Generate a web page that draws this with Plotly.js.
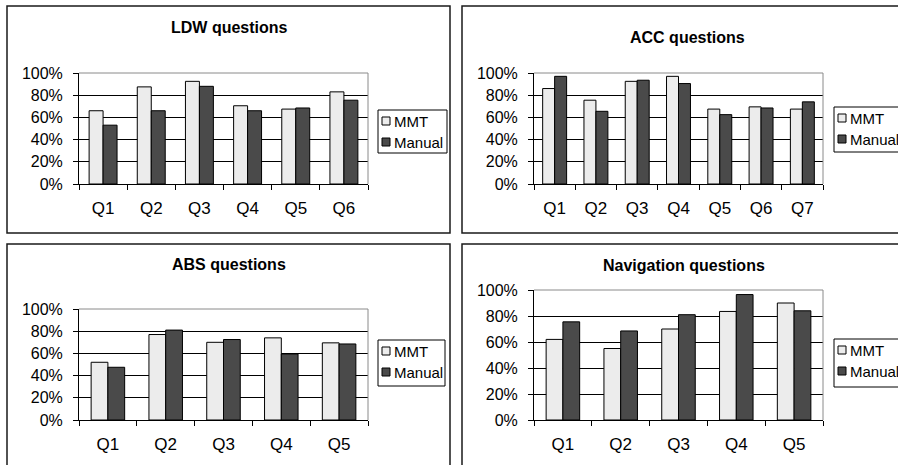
<!DOCTYPE html>
<html>
<head>
<meta charset="utf-8">
<script src="https://cdn.plot.ly/plotly-3.0.1.min.js"></script>
<style>html,body{margin:0;padding:0;background:#fff;}#chart{width:898px;height:465px;}</style>
</head>
<body>
<div id="chart"></div>
<script>
// ---- data ----
const seriesNames = ['MMT', 'Manual'];
const panelTitles = ['LDW questions', 'ACC questions', 'ABS questions', 'Navigation questions'];

const ldwCats = ['Q1', 'Q2', 'Q3', 'Q4', 'Q5', 'Q6'];
const ldwMMT = [66, 87.5, 92.5, 70.5, 67.5, 83];
const ldwManual = [53, 66, 88, 66, 68.5, 75.5];

const accCats = ['Q1', 'Q2', 'Q3', 'Q4', 'Q5', 'Q6', 'Q7'];
const accMMT = [86, 75.5, 92.5, 97, 67.5, 69.5, 67.5];
const accManual = [97, 65.5, 93.5, 90.5, 62.5, 68.5, 74];

const absCats = ['Q1', 'Q2', 'Q3', 'Q4', 'Q5'];
const absMMT = [52, 77, 70, 74, 69.5];
const absManual = [47.5, 81, 72.5, 59.5, 68.5];

const navCats = ['Q1', 'Q2', 'Q3', 'Q4', 'Q5'];
const navMMT = [62, 55, 70, 83.5, 90];
const navManual = [75.5, 68.5, 81, 96.5, 84];

const yTickVals = [0, 20, 40, 60, 80, 100];
const yTickText = ['0%', '20%', '40%', '60%', '80%', '100%'];

// ---- layout helpers ----
const W = 898, H = 465;
const px = x => x / W;
const py = y => 1 - y / H;
const FONT = 'Liberation Sans, Arial, sans-serif';
const colMMT = '#ececec', colManual = '#4a4a4a';

const panels = [
  {cats: ldwCats, a: ldwMMT, b: ldwManual, plot: [79, 73, 368, 184], box: [7, 6, 450, 233], title: [229, 28], leg: [378, 110, 447, 153]},
  {cats: accCats, a: accMMT, b: accManual, plot: [534, 73, 823, 184], box: [462, 6, 905, 233], title: [687, 37], leg: [834, 107, 905, 152]},
  {cats: absCats, a: absMMT, b: absManual, plot: [79, 309, 368, 420], box: [7, 244, 450, 475], title: [229, 264], leg: [378, 340, 445, 386]},
  {cats: navCats, a: navMMT, b: navManual, plot: [534, 290, 823, 420], box: [462, 244, 905, 475], title: [684, 265], leg: [834, 339, 905, 387]}
];

const traces = [];
const layout = {
  width: W, height: H,
  margin: {l: 0, r: 0, t: 0, b: 0},
  paper_bgcolor: '#fff', plot_bgcolor: '#fff',
  showlegend: false,
  barmode: 'group', bargap: 0.42, bargroupgap: 0,
  font: {family: FONT, color: '#000'},
  shapes: [], annotations: []
};

panels.forEach((p, i) => {
  const n = i === 0 ? '' : String(i + 1);
  const xa = 'x' + n, ya = 'y' + n;
  const vals = [p.a, p.b];
  const cols = [colMMT, colManual];
  vals.forEach((v, k) => {
    traces.push({
      type: 'bar', x: p.cats, y: v, name: seriesNames[k],
      xaxis: xa, yaxis: ya,
      marker: {color: cols[k], line: {color: '#000', width: 1}},
      hoverinfo: 'x+y+name'
    });
  });
  const [x0, y0, x1, y1] = p.plot;
  layout['xaxis' + n] = {
    domain: [px(x0), px(x1)], anchor: ya,
    type: 'category',
    showline: true, linecolor: '#000', linewidth: 1,
    ticks: 'outside', tickson: 'boundaries', ticklen: 5, tickcolor: '#000', tickwidth: 1,
    tickfont: {family: FONT, size: 17, color: '#000'},
    ticklabelstandoff: 9,
    showgrid: false, zeroline: false, fixedrange: true
  };
  layout['yaxis' + n] = {
    domain: [py(y1), py(y0)], anchor: xa,
    range: [0, 100], tickmode: 'array', tickvals: yTickVals, ticktext: yTickText,
    showline: true, linecolor: '#000', linewidth: 1,
    ticks: 'outside', ticklen: 5, tickcolor: '#000', tickwidth: 1,
    tickfont: {family: FONT, size: 16, color: '#000'},
    ticklabelstandoff: 7,
    showgrid: true, gridcolor: '#000', gridwidth: 1,
    zeroline: false, fixedrange: true
  };
  // gray top / right frame of plot area
  layout.shapes.push(
    {type: 'line', xref: xa + ' domain', yref: ya + ' domain', x0: 0, x1: 1, y0: 1, y1: 1, line: {color: '#8a8a8a', width: 1}, layer: 'above'},
    {type: 'line', xref: xa + ' domain', yref: ya + ' domain', x0: 1, x1: 1, y0: 0, y1: 1, line: {color: '#8a8a8a', width: 1}, layer: 'above'}
  );
  // panel border
  const b = p.box;
  layout.shapes.push({type: 'rect', xref: 'paper', yref: 'paper', x0: px(b[0]), x1: px(b[2]), y0: py(b[3]), y1: py(b[1]),
    line: {color: '#1a1a1a', width: 1.5}, fillcolor: 'rgba(0,0,0,0)', layer: 'below'});
  // title
  layout.annotations.push({text: '<b>' + panelTitles[i] + '</b>', xref: 'paper', yref: 'paper',
    x: px(p.title[0]), y: py(p.title[1]), xanchor: 'center', yanchor: 'middle', showarrow: false,
    font: {family: FONT, size: 16, color: '#000'}});
  // legend box
  const L = p.leg;
  layout.shapes.push({type: 'rect', xref: 'paper', yref: 'paper', x0: px(L[0]), x1: px(L[2]), y0: py(L[3]), y1: py(L[1]),
    line: {color: '#000', width: 1}, fillcolor: '#fff', layer: 'above'});
  const rows = [L[1] + 11, L[1] + 32];
  seriesNames.forEach((s, k) => {
    const cy = rows[k];
    layout.shapes.push({type: 'rect', xref: 'paper', yref: 'paper', x0: px(L[0] + 4), x1: px(L[0] + 12), y0: py(cy + 4), y1: py(cy - 4),
      line: {color: '#000', width: 1}, fillcolor: cols[k], layer: 'above'});
    layout.annotations.push({text: s, xref: 'paper', yref: 'paper', x: px(L[0] + 14), y: py(cy), xanchor: 'left', yanchor: 'middle',
      showarrow: false, font: {family: FONT, size: 15, color: '#000'}});
  });
});

Plotly.newPlot('chart', traces, layout, {displayModeBar: false, staticPlot: true});
</script>
</body>
</html>
